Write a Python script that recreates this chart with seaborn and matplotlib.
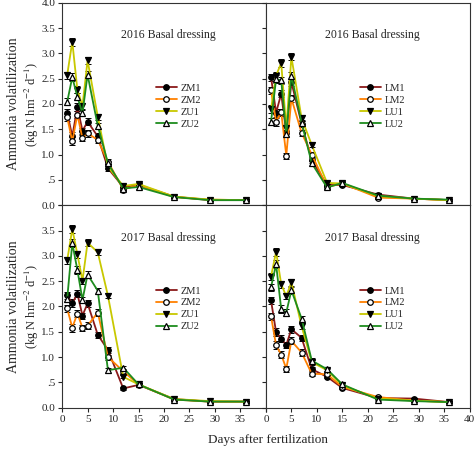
import matplotlib
matplotlib.use('Agg')
import matplotlib.pyplot as plt
import seaborn as sns
import pandas as pd

# 데이터
days = [1, 2, 3, 4, 5, 7, 9, 12, 15, 22, 29, 36]

zm1_2016 = [1.83, 1.36, 1.94, 1.47, 1.65, 1.36, 0.73, 0.36, 0.40, 0.17, 0.10, 0.10]
zm2_2016 = [1.74, 1.26, 1.79, 1.32, 1.42, 1.29, 0.86, 0.31, 0.40, 0.16, 0.11, 0.10]
zu1_2016 = [2.57, 3.23, 2.28, 1.96, 2.86, 1.75, 0.76, 0.38, 0.42, 0.17, 0.11, 0.10]
zu2_2016 = [2.04, 2.53, 2.14, 1.82, 2.58, 1.57, 0.83, 0.33, 0.36, 0.16, 0.10, 0.10]

lm1_2016 = [2.53, 1.83, 2.20, 1.43, 2.43, 1.61, 0.89, 0.40, 0.40, 0.21, 0.13, 0.10]
lm2_2016 = [2.27, 1.65, 1.84, 0.98, 2.11, 1.43, 1.00, 0.36, 0.43, 0.15, 0.13, 0.10]
lu1_2016 = [1.90, 2.56, 2.81, 1.52, 2.93, 1.72, 1.19, 0.44, 0.43, 0.18, 0.13, 0.10]
lu2_2016 = [1.65, 2.49, 2.47, 1.40, 2.56, 1.63, 0.83, 0.35, 0.44, 0.19, 0.13, 0.11]

zm1_2017 = [2.22, 2.06, 2.25, 1.82, 2.06, 1.44, 1.14, 0.38, 0.45, 0.17, 0.12, 0.12]
zm2_2017 = [1.96, 1.58, 1.86, 1.58, 1.62, 1.88, 1.00, 0.72, 0.46, 0.16, 0.12, 0.12]
zu1_2017 = [2.91, 3.53, 3.03, 2.51, 3.26, 3.07, 2.21, 0.61, 0.46, 0.17, 0.13, 0.12]
zu2_2017 = [2.15, 3.25, 2.72, 2.13, 2.63, 2.31, 0.74, 0.79, 0.46, 0.16, 0.12, 0.12]

lm1_2017 = [2.12, 1.49, 1.36, 1.24, 1.55, 1.38, 0.76, 0.61, 0.39, 0.19, 0.18, 0.11]
lm2_2017 = [1.81, 1.23, 1.05, 0.77, 1.32, 1.09, 0.67, 0.66, 0.41, 0.21, 0.14, 0.11]
lu1_2017 = [2.59, 3.08, 2.44, 2.20, 2.48, 1.61, 0.90, 0.74, 0.44, 0.18, 0.14, 0.11]
lu2_2017 = [2.38, 2.83, 1.95, 1.88, 2.32, 1.76, 0.93, 0.76, 0.46, 0.16, 0.13, 0.11]

# 오차 (대략)
err = [0.07, 0.08, 0.07, 0.06, 0.07, 0.06, 0.05, 0.03, 0.03, 0.02, 0.02, 0.02]

# 처리별 스타일
colors = ['#8B1A1A', '#FF8000', '#C8C800', '#1E8C1E']
markers = ['o', 'o', 'v', '^']
faces = ['black', 'white', 'black', 'white']

panels = [
    ('2016 Basal dressing', ['ZM1', 'ZM2', 'ZU1', 'ZU2'], [zm1_2016, zm2_2016, zu1_2016, zu2_2016]),
    ('2016 Basal dressing', ['LM1', 'LM2', 'LU1', 'LU2'], [lm1_2016, lm2_2016, lu1_2016, lu2_2016]),
    ('2017 Basal dressing', ['ZM1', 'ZM2', 'ZU1', 'ZU2'], [zm1_2017, zm2_2017, zu1_2017, zu2_2017]),
    ('2017 Basal dressing', ['LM1', 'LM2', 'LU1', 'LU2'], [lm1_2017, lm2_2017, lu1_2017, lu2_2017]),
]

sns.set_style('ticks')
plt.rcParams['font.family'] = ['Liberation Serif', 'DejaVu Serif']
plt.rcParams['mathtext.fontset'] = 'stix'

fig = plt.figure(figsize=(4.74, 4.55), dpi=100)
W, H = 0.430, 0.445
pos = [(0.131, 0.549), (0.561, 0.549), (0.131, 0.104), (0.561, 0.104)]

for i, (title, names, series) in enumerate(panels):
    ax = fig.add_axes([pos[i][0], pos[i][1], W, H])
    for name, vals, c, m, fc in zip(names, series, colors, markers, faces):
        df = pd.DataFrame({'day': days, 'val': vals})
        ax.errorbar(days, vals, yerr=err, fmt='none', ecolor='black',
                    elinewidth=0.7, capsize=2, capthick=0.7, zorder=2)
        sns.lineplot(data=df, x='day', y='val', ax=ax, color=c, lw=1.3,
                     marker=m, markersize=4.0, markerfacecolor=fc,
                     markeredgecolor='black', markeredgewidth=0.9,
                     label=name, zorder=3)
    ax.set_xlim(0, 40)
    ax.set_ylim(0, 4.0)
    ax.set_xlabel('')
    ax.set_ylabel('')
    ax.set_yticks([0, 0.5, 1.0, 1.5, 2.0, 2.5, 3.0, 3.5, 4.0])
    ax.set_xticks([0, 5, 10, 15, 20, 25, 30, 35, 40])
    ax.tick_params(direction='out', length=3, width=0.8, labelsize=8, pad=2)
    for s in ax.spines.values():
        s.set_linewidth(0.8)
        s.set_color('#333333')
    if i == 0:
        ax.set_yticklabels(['0.0', '.5', '1.0', '1.5', '2.0', '2.5', '3.0', '3.5', '4.0'])
    elif i == 2:
        ax.set_yticklabels(['0.0', '.5', '1.0', '1.5', '2.0', '2.5', '3.0', '3.5', ''])
    else:
        ax.set_yticklabels([])
    if i < 2:
        ax.tick_params(axis='x', length=0, labelbottom=False)
    elif i == 2:
        ax.set_xticklabels(['0', '5', '10', '15', '20', '25', '30', '35', ''])
    ax.text(0.52, 0.84, title, transform=ax.transAxes, ha='center', va='center', fontsize=8.5)
    ax.legend(loc='upper left', bbox_to_anchor=(0.44, 0.62), frameon=False,
              fontsize=7.5, handlelength=2.0, handletextpad=0.4,
              labelspacing=0.25, borderaxespad=0)

# y축 제목
for yc in [0.549 + H / 2, 0.104 + H / 2]:
    fig.text(0.028, yc, 'Ammonia volatilization', rotation=90, ha='center', va='center', fontsize=10)
    fig.text(0.068, yc, '(kg N hm$^{-2}$ d$^{-1}$)', rotation=90, ha='center', va='center', fontsize=9)

fig.text(0.565, 0.032, 'Days after fertilization', ha='center', va='center', fontsize=9.5)

fig.savefig('out.png', dpi=100)
